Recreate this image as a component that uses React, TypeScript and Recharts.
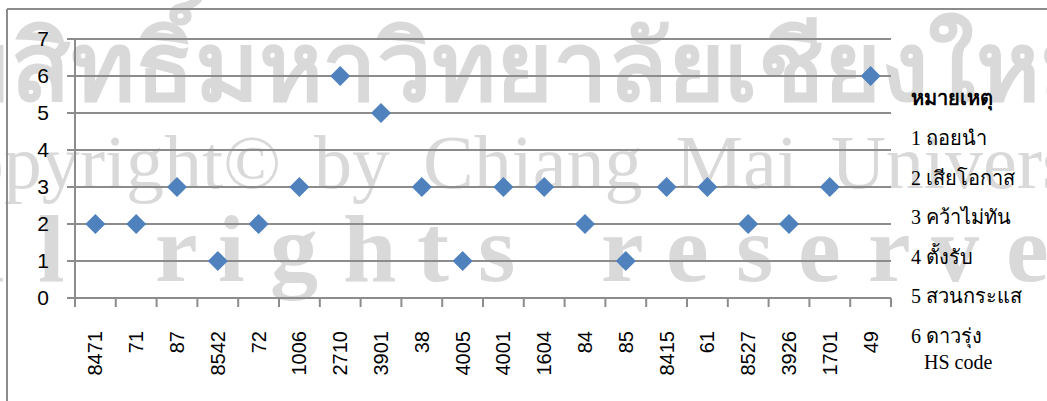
import React from 'react';
import { ScatterChart, Scatter, XAxis, YAxis, CartesianGrid } from 'recharts';

// HS codes along the x axis and the group (1-6) each one falls in
const hsCodes = ['8471', '71', '87', '8542', '72', '1006', '2710', '3901', '38', '4005', '4001', '1604', '84', '85', '8415', '61', '8527', '3926', '1701', '49'];
const groups = [2, 2, 3, 1, 2, 3, 6, 5, 3, 1, 3, 3, 2, 1, 3, 3, 2, 2, 3, 6];
const yTicks = [0, 1, 2, 3, 4, 5, 6, 7];

const noteTitle = 'หมายเหตุ';
const noteItems = ['1 ถอยนำ', '2 เสียโอกาส', '3 คว้าไม่ทัน', '4 ตั้งรับ', '5 สวนกระแส', '6 ดาวรุ่ง'];
const xAxisTitle = 'HS code';

const data = hsCodes.map((code, i) => ({ code, group: groups[i] }));

const W = 1047;
const H = 401;
const margin = { top: 39, right: 156, bottom: 0, left: 0 };
const yAxisWidth = 75;
const plotW = W - margin.left - margin.right - yAxisWidth;
const band = plotW / hsCodes.length;

const GRID = '#8c8c8c';
const BLUE = '#4f81bd';
const WM = '#d9d9d9';
const sans = '"Liberation Sans", Arial, sans-serif';
const serif = '"Liberation Serif", "Times New Roman", serif';

const Diamond = (props: any) => {
  const { cx, cy } = props;
  const r = 10;
  return <polygon points={`${cx},${cy - r} ${cx + r},${cy} ${cx},${cy + r} ${cx - r},${cy}`} fill={BLUE} />;
};

const XTick = (props: any) => {
  const { x, y, payload, index } = props;
  const last = index === hsCodes.length - 1;
  return (
    <g>
      <line x1={x - band / 2} x2={x - band / 2} y1={y} y2={y + 9} stroke={GRID} strokeWidth={2} />
      {last && <line x1={x + band / 2} x2={x + band / 2} y1={y} y2={y + 9} stroke={GRID} strokeWidth={2} />}
      <text
        transform={`translate(${x},${y + 33}) rotate(-90)`}
        textAnchor="end"
        dominantBaseline="central"
        fontSize={20}
        fontFamily={sans}
        fill="#000"
      >
        {payload.value}
      </text>
    </g>
  );
};

// the "All rights reserved" letters of the watermark, spread out
const wmLetters = 'Allrightsreserved'.split('');
const wmX = [-140, -22, 38, 155, 218, 270, 343, 417, 478, 601, 666, 736, 798, 868, 931, 1006, 1075];

const Watermark = () => (
  <svg width={W} height={H} style={{ position: 'absolute', left: 0, top: 0 }}>
    <text x={-116} y={100} fontSize={96} fontWeight="bold" fontFamily='"Noto Sans", sans-serif' fill={WM} textLength={1220} lengthAdjust="spacingAndGlyphs">
      ลิขสิทธิ์มหาวิทยาลัยเชียงใหม่
    </text>
    <text x={-85} y={188} fontSize={76} fontFamily={serif} fill={WM} wordSpacing={14}>
      Copyright© by Chiang Mai University
    </text>
    <text y={281} fontSize={96} fontWeight="bold" fontFamily={serif} fill={WM}>
      {wmLetters.map((ch, i) => (
        <tspan key={i} x={wmX[i]}>{ch}</tspan>
      ))}
    </text>
  </svg>
);

const Notes = () => (
  <svg width={W} height={H} style={{ position: 'absolute', left: 0, top: 0 }}>
    <text x={911} y={105} fontSize={20} fontWeight="bold" fontFamily={serif} fill="#000">{noteTitle}</text>
    {noteItems.map((t, i) => (
      <text key={t} x={911} y={145 + i * 39.6} fontSize={20} fontFamily={serif} fill="#000">{t}</text>
    ))}
    <text x={924} y={369} fontSize={20} fontFamily={serif} fill="#000">{xAxisTitle}</text>
    {/* outer frame */}
    <line x1={7} x2={W} y1={9} y2={9} stroke={GRID} strokeWidth={2} />
    <line x1={7} x2={7} y1={9} y2={H} stroke={GRID} strokeWidth={2} />
  </svg>
);

export default function App() {
  return (
    <div style={{ position: 'fixed', left: 0, top: 0, width: W, height: H, background: '#fff', overflow: 'hidden' }}>
      <Watermark />
      <div style={{ position: 'absolute', left: 0, top: 0 }}>
        <ScatterChart width={W} height={H} margin={margin}>
          <CartesianGrid vertical={false} stroke={GRID} strokeWidth={2} />
          <XAxis
            dataKey="code"
            type="category"
            scale="band"
            allowDuplicatedCategory={false}
            interval={0}
            height={H - 298}
            tickSize={0}
            tickMargin={0}
            tickLine={false}
            axisLine={{ stroke: GRID, strokeWidth: 2 }}
            tick={<XTick />}
          />
          <YAxis
            dataKey="group"
            type="number"
            domain={[0, 7]}
            ticks={yTicks}
            interval={0}
            width={yAxisWidth}
            tickSize={8}
            tickMargin={18}
            tickLine={{ stroke: GRID, strokeWidth: 2 }}
            axisLine={{ stroke: GRID, strokeWidth: 2 }}
            tick={{ fill: '#000', fontSize: 21, fontFamily: sans }}
          />
          <Scatter data={data} dataKey="group" shape={<Diamond />} isAnimationActive={false} />
        </ScatterChart>
      </div>
      <Notes />
    </div>
  );
}
